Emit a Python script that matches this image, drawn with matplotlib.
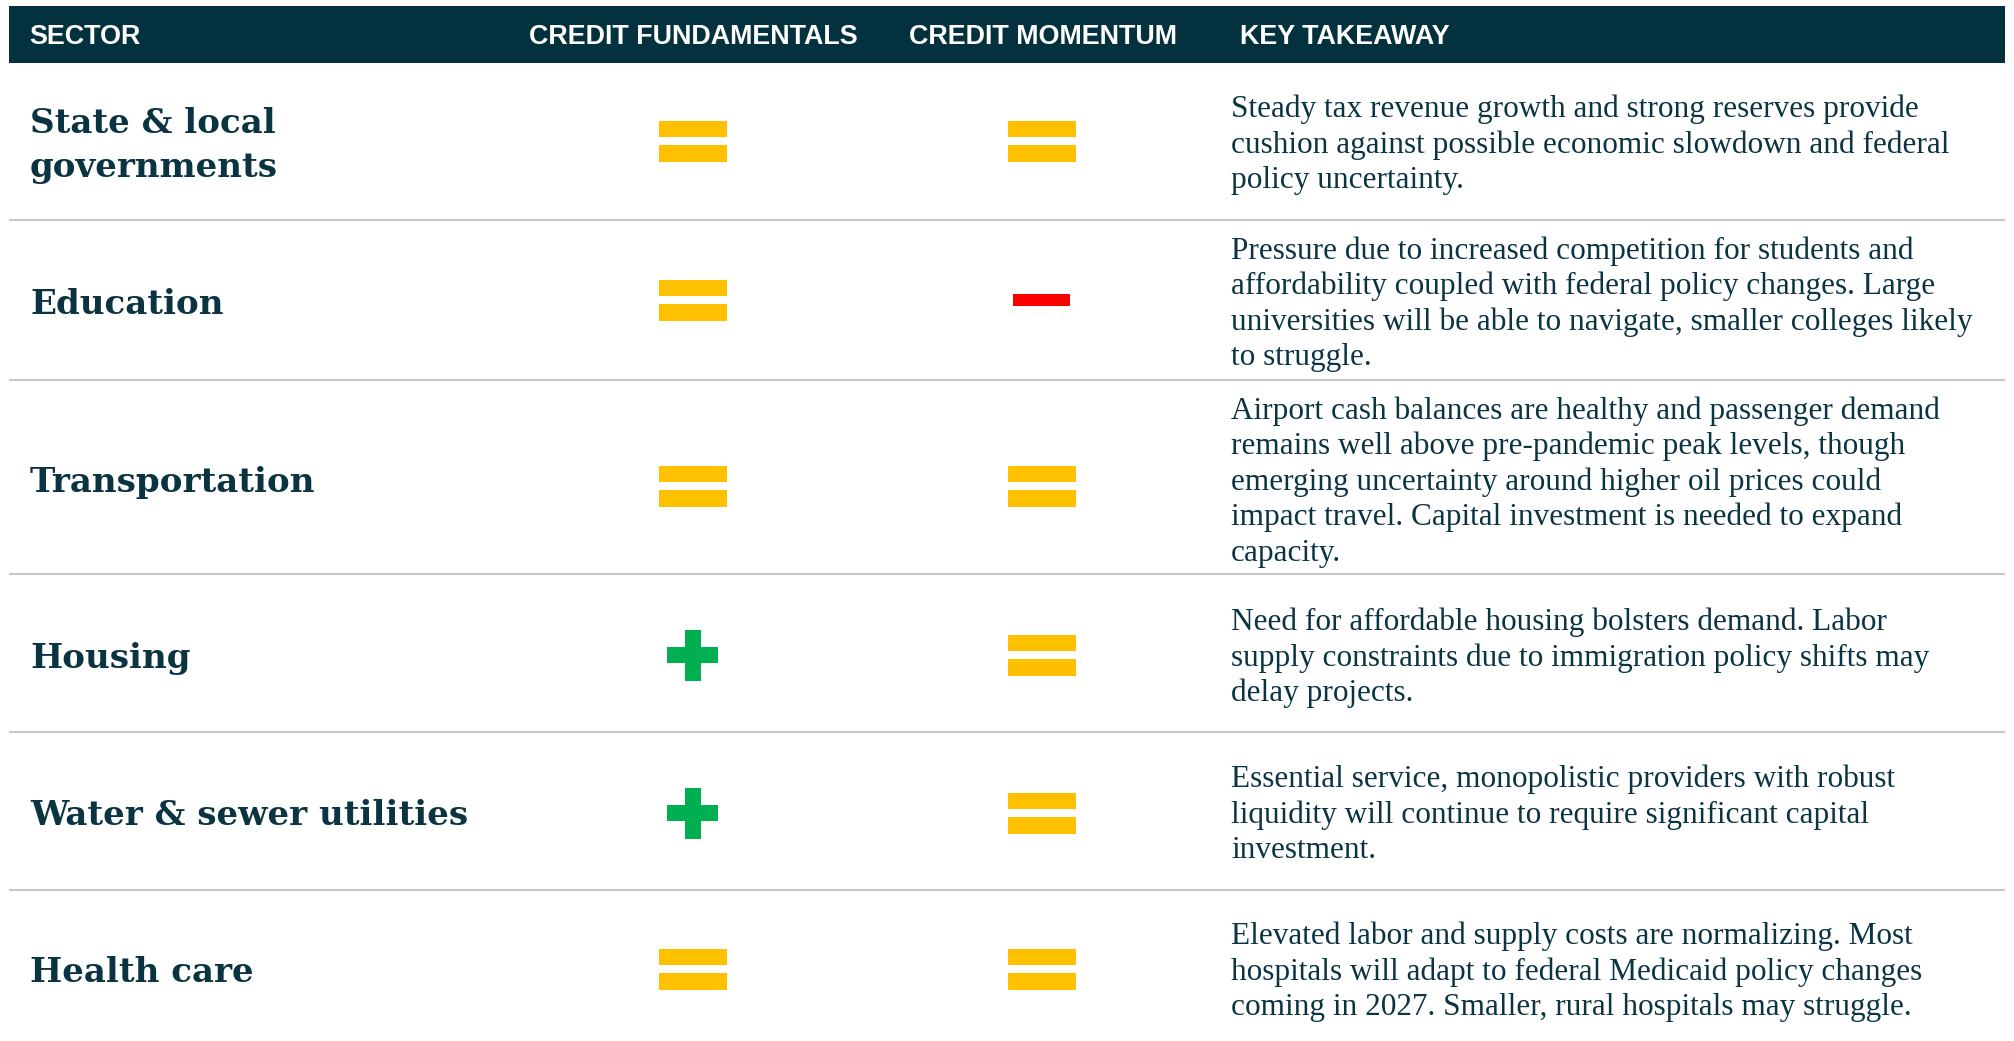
import matplotlib
matplotlib.use("Agg")
import matplotlib.pyplot as plt
from matplotlib.patches import Rectangle

# ---------------- data ----------------
headers = ["SECTOR", "CREDIT FUNDAMENTALS", "CREDIT MOMENTUM", "KEY TAKEAWAY"]
sectors = [
    ["State & local", "governments"],
    ["Education"],
    ["Transportation"],
    ["Housing"],
    ["Water & sewer utilities"],
    ["Health care"],
]
fundamentals = ["equal", "equal", "equal", "plus", "plus", "equal"]
momentum = ["equal", "minus", "equal", "equal", "equal", "equal"]
takeaways = [
    ["Steady tax revenue growth and strong reserves provide",
     "cushion against possible economic slowdown and federal",
     "policy uncertainty."],
    ["Pressure due to increased competition for students and",
     "affordability coupled with federal policy changes. Large",
     "universities will be able to navigate, smaller colleges likely",
     "to struggle."],
    ["Airport cash balances are healthy and passenger demand",
     "remains well above pre-pandemic peak levels, though",
     "emerging uncertainty around higher oil prices could",
     "impact travel. Capital investment is needed to expand",
     "capacity."],
    ["Need for affordable housing bolsters demand. Labor",
     "supply constraints due to immigration policy shifts may",
     "delay projects."],
    ["Essential service, monopolistic providers with robust",
     "liquidity will continue to require significant capital",
     "investment."],
    ["Elevated labor and supply costs are normalizing. Most",
     "hospitals will adapt to federal Medicaid policy changes",
     "coming in 2027. Smaller, rural hospitals may struggle."],
]

# ---------------- layout / style ----------------
W, H = 2015, 1041
HEADER_BG = "#03313e"
TEXT_C = "#0a3441"
YELLOW = "#ffc000"
GREEN = "#00b050"
RED = "#ff0000"
SEP_C = "#c8c8c8"

content_y = [142, 301, 479, 655, 812, 969]
icon_y = [141, 300, 486, 655, 813, 969]
sep_y = [219.5, 380, 574, 732, 889.5]
col_fund_x = 693
col_mom_x = 1042
sector_x = 30
take_x = 1231

fig = plt.figure(figsize=(W / 100, H / 100), dpi=100)
ax = fig.add_axes([0, 0, 1, 1])
ax.set_xlim(0, W)
ax.set_ylim(H, 0)
ax.axis("off")

# header band
ax.add_patch(Rectangle((9, 5.5), 1996, 57, facecolor=HEADER_BG, edgecolor="none"))
hdr_kw = dict(color="white", fontsize=19.4, fontweight="bold",
              family=["Liberation Sans", "DejaVu Sans"], va="baseline")
ax.text(29, 44, headers[0], ha="left", **hdr_kw)
ax.text(col_fund_x, 44, headers[1], ha="center", **hdr_kw)
ax.text(col_mom_x + 1, 44, headers[2], ha="center", **hdr_kw)
ax.text(1240, 44, headers[3], ha="left", **hdr_kw)

# separators
for y in sep_y:
    ax.plot([9, 2005], [y, y], color=SEP_C, lw=1.5, solid_capstyle="butt")


def draw_icon(kind, cx, cy):
    if kind == "equal":
        w, h, gap = 68, 16.5, 8
        ax.add_patch(Rectangle((cx - w / 2, cy - gap / 2 - h), w, h, facecolor=YELLOW, edgecolor="none"))
        ax.add_patch(Rectangle((cx - w / 2, cy + gap / 2), w, h, facecolor=YELLOW, edgecolor="none"))
    elif kind == "plus":
        L, t = 51, 16.5
        ax.add_patch(Rectangle((cx - L / 2, cy - t / 2), L, t, facecolor=GREEN, edgecolor="none"))
        ax.add_patch(Rectangle((cx - t / 2, cy - L / 2), t, L, facecolor=GREEN, edgecolor="none"))
    elif kind == "minus":
        w, h = 57, 12
        ax.add_patch(Rectangle((cx - w / 2, cy - h / 2), w, h, facecolor=RED, edgecolor="none"))


sec_kw = dict(color=TEXT_C, fontsize=24.6, fontweight="bold",
              family=["DejaVu Serif"], va="baseline", ha="left")
body_kw = dict(color=TEXT_C, fontsize=22.5,
               family=["Liberation Serif", "DejaVu Serif"], va="baseline", ha="left")

SEC_LS = 44.5
BODY_LS = 35.5
for i in range(len(sectors)):
    cy = content_y[i]
    lines = sectors[i]
    n = len(lines)
    for j, ln in enumerate(lines):
        ax.text(sector_x, cy + 13 + (j - (n - 1) / 2) * SEC_LS, ln, **sec_kw)
    draw_icon(fundamentals[i], col_fund_x, icon_y[i])
    draw_icon(momentum[i], col_mom_x, icon_y[i])
    tl = takeaways[i]
    n = len(tl)
    for j, ln in enumerate(tl):
        ax.text(take_x, cy + 10.8 + (j - (n - 1) / 2) * BODY_LS, ln, **body_kw)

fig.savefig("out.png", dpi=100, facecolor="white")
